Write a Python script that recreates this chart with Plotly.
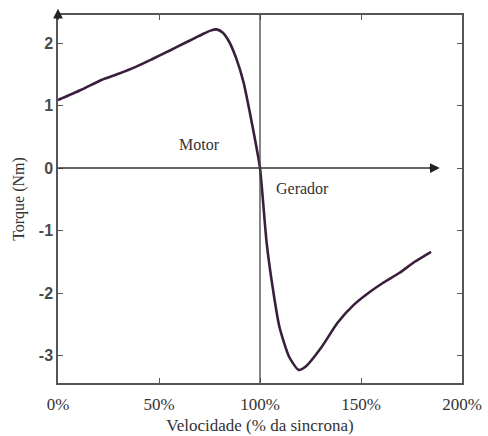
import plotly.graph_objects as go

# Data (speed in % of synchronous, torque in Nm)
speed_pct = [0, 11.3, 21.5, 30.0, 38.5, 47.0, 55.9, 62.0, 67.7, 72.0, 75.5, 78.5, 81.5, 84.6, 88.2, 91.8,
             94.9, 97.4, 100, 103.3, 106.7, 109.6, 114.4, 119.1, 122.5, 130.6,
             138.3, 146.4, 154.5, 160.8, 168.9, 176.6, 184.7]
torque_nm = [1.09, 1.25, 1.41, 1.51, 1.62, 1.75, 1.89, 1.99, 2.08, 2.15, 2.2, 2.22, 2.17, 2.03, 1.76, 1.38,
             0.9, 0.48, 0.0, -1.2, -2.0, -2.54, -3.02, -3.23, -3.18, -2.86,
             -2.48, -2.19, -1.98, -1.84, -1.68, -1.5, -1.34]

x_tick_vals = [0, 50, 100, 150, 200]
x_tick_text = ["0%", "50%", "100%", "150%", "200%"]
y_tick_vals = [-3, -2, -1, 0, 1, 2]
y_tick_text = ["-3", "-2", "-1", "0", "1", "2"]

region_labels = ["Motor", "Gerador"]
region_x = [70, 121]
region_y = [0.37, -0.33]

serif = "Liberation Serif, Times New Roman, serif"
axis_col = "#555555"

fig = go.Figure()
fig.add_trace(go.Scatter(
    x=speed_pct, y=torque_nm, mode="lines",
    line=dict(color="#3a1f3c", width=2.6, shape="spline", smoothing=0.6),
    showlegend=False, hoverinfo="skip"))

# zero line with arrow
fig.add_shape(type="line", xref="x", yref="y", x0=0, x1=185, y0=0, y1=0,
              line=dict(color="#333333", width=1.5))
fig.add_annotation(x=189, y=0, ax=183, ay=0, xref="x", yref="y", axref="x", ayref="y",
                   text="", showarrow=True, arrowhead=2, arrowsize=1.3, arrowwidth=1.5,
                   arrowcolor="#222222")
# vertical line at synchronous speed
fig.add_shape(type="line", xref="x", yref="paper", x0=100, x1=100, y0=0, y1=1,
              line=dict(color="#444444", width=1.3))
# y-axis arrow
fig.add_annotation(x=0, y=2.55, ax=0, ay=2.35, xref="x", yref="y", axref="x", ayref="y",
                   text="", showarrow=True, arrowhead=2, arrowsize=1.3, arrowwidth=1.5,
                   arrowcolor="#222222")

for t, xx, yy in zip(region_labels, region_x, region_y):
    fig.add_annotation(x=xx, y=yy, xref="x", yref="y", text=t, showarrow=False,
                       font=dict(family=serif, size=16, color="#333333"))

fig.update_xaxes(range=[0, 200], tickvals=x_tick_vals, ticktext=x_tick_text,
                 ticks="inside", ticklen=5, tickcolor=axis_col, automargin=False,
                 ticklabelstandoff=5,
                 showline=True, linecolor=axis_col, linewidth=1.5, mirror="ticks",
                 showgrid=False, zeroline=False,
                 tickfont=dict(family=serif, size=17, color="#333333"),
                 title=dict(text="Velocidade (% da sincrona)", standoff=6,
                            font=dict(family=serif, size=17, color="#333333")))
fig.update_yaxes(range=[-3.44, 2.45], tickvals=y_tick_vals, ticktext=y_tick_text,
                 ticks="inside", ticklen=5, tickcolor=axis_col, automargin=False,
                 showline=True, linecolor=axis_col, linewidth=1.5, mirror="ticks",
                 showgrid=False, zeroline=False,
                 tickfont=dict(family="Liberation Sans, Arial, sans-serif", size=16,
                               color="#4a4a4a", weight="bold"),
                 title=dict(text="Torque (Nm)", standoff=10,
                            font=dict(family=serif, size=16, color="#333333")))

fig.update_layout(width=488, height=436, margin=dict(l=58, r=26, t=15, b=53),
                  plot_bgcolor="white", paper_bgcolor="white")

fig.write_html("out.html", config={"displayModeBar": False},
               post_script="document.body.style.margin='0';document.body.style.overflow='hidden';")
